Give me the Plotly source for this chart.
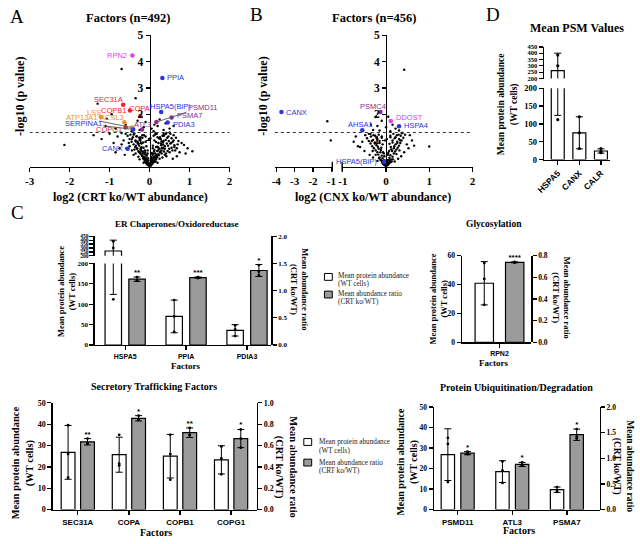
import math
import plotly.graph_objects as go

W, H = 640, 544


def X(px):
    return px / W


def Y(py):
    return 1 - py / H


SERIF = "Liberation Serif"
SANS = "Liberation Sans"
GRAY_FILL = "#9b9b9b"

# ------------------------------------------------------------------ data
P_CUTOFF = 0.05

# Panel A : CRT ko / WT volcano (unlabelled proteins)
a_log2fc = [
    0.00, -0.03, 0.03, -0.06, 0.06, -0.02, 0.02, -0.09, 0.09, -0.05,
    0.05, -0.12, 0.12, -0.08, 0.08, -0.15, 0.15, -0.10, 0.10, -0.18,
    0.18, -0.04, 0.04, -0.20, 0.22, -0.13, 0.14, -0.24, 0.26, -0.07,
    0.07, -0.28, 0.30, -0.17, 0.19, -0.32, 0.34, -0.11, 0.11, -0.22,
    0.25, -0.36, 0.38, -0.26, 0.29, -0.40, 0.43, -0.15, 0.16, -0.30,
    0.33, -0.45, 0.48, -0.20, 0.22, -0.35, 0.40, -0.50, 0.55, -0.25,
    0.28, -0.42, 0.47, -0.55, 0.60, -0.10, 0.12, -0.33, 0.36, -0.48,
    0.52, -0.60, 0.66, -0.18, 0.20, -0.38, 0.42, -0.52, 0.58, -0.65,
    0.72, -0.05, 0.30, -0.28, 0.45, -0.44, 0.62, -0.58, 0.80, 0.08,
    0.25, -0.15, 0.38, -0.35, 0.55, -0.50, 0.70, 0.15, 0.32, -0.25,
    0.50, -0.40, 0.64, 0.20, 0.42,
    -0.70, -0.75, -0.80, -0.90, -1.00, -1.20, -1.40, -0.85, -0.62, 0.75,
    0.86, 1.07, 0.90, 0.95, 0.68, 0.58, 0.50, 0.35, 0.15, -0.70,
    -0.70, -0.35, -1.30, -0.95, -1.10, -0.85, -0.60, -0.30, -0.15, -0.45,
    -0.25, 0.05, 0.20, 0.35, 0.10, 0.50, 0.25, 0.60, 0.40, -2.13,
    0.12, -0.10, -1.07,
    0.01, -0.01, 0.04, -0.04, 0.07, -0.07, 0.02, -0.02, 0.05, -0.05,
    0.10, -0.10, 0.13, -0.13, 0.03, -0.03, 0.08, -0.08, 0.16, -0.16,
    0.06, -0.06, 0.11, -0.11, 0.19, -0.19, 0.14, -0.14, 0.09, -0.09,
    0.23, -0.23, 0.17, -0.17, 0.27, -0.27, 0.21, -0.21, 0.31, -0.31,
    -0.05, 0.05, -0.12, 0.12, -0.20, 0.20, -0.28, 0.28, -0.35, 0.35,
    -0.08, 0.08, -0.16, 0.16, -0.24, 0.24, -0.32, 0.32, -0.40, 0.40,
    -0.02, 0.02, -0.10, 0.10, -0.18, 0.18, -0.26, 0.26, -0.34, 0.34,
    -0.44, 0.44, -0.14, 0.14, -0.22, 0.22, -0.30, 0.30, -0.38, 0.38,
    0.46, 0.52, 0.57, 0.62, 0.68, 0.36, 0.41, 0.49, 0.54, 0.60,
]
a_neglogp = [
    0.02, 0.05, 0.04, 0.08, 0.10, 0.12, 0.15, 0.14, 0.18, 0.20,
    0.22, 0.20, 0.25, 0.28, 0.30, 0.30, 0.33, 0.35, 0.38, 0.40,
    0.42, 0.32, 0.36, 0.45, 0.48, 0.48, 0.50, 0.52, 0.55, 0.42,
    0.45, 0.60, 0.62, 0.58, 0.60, 0.68, 0.70, 0.55, 0.58, 0.66,
    0.68, 0.75, 0.78, 0.80, 0.82, 0.85, 0.88, 0.72, 0.75, 0.90,
    0.92, 0.95, 0.98, 0.88, 0.90, 1.00, 1.02, 1.05, 1.08, 1.02,
    1.05, 1.12, 1.15, 1.18, 1.20, 0.95, 1.00, 1.15, 1.18, 1.22,
    1.25, 1.25, 1.10, 1.10, 1.12, 1.26, 1.28, 0.90, 0.95, 1.00,
    0.98, 0.62, 0.50, 0.38, 0.60, 0.62, 0.75, 0.70, 0.90, 0.70,
    0.30, 0.15, 0.45, 0.50, 0.72, 0.78, 0.85, 0.20, 0.35, 0.28,
    0.55, 0.45, 0.62, 0.15, 0.40,
    0.85, 0.70, 1.15, 0.90, 1.25, 1.05, 1.20, 0.55, 0.45, 0.55,
    0.83, 0.59, 0.50, 0.70, 0.40, 0.30, 1.30, 1.25, 1.28, 1.28,
    3.72, 2.61, 2.40, 2.00, 1.55, 1.45, 1.60, 1.75, 1.50, 1.35,
    1.40, 1.45, 1.55, 1.40, 1.35, 1.45, 1.80, 1.55, 1.65, 0.83,
    1.60, 1.70, 1.83,
    0.00, 0.03, 0.06, 0.07, 0.12, 0.11, 0.09, 0.10, 0.16, 0.14,
    0.17, 0.22, 0.20, 0.26, 0.25, 0.24, 0.24, 0.20, 0.28, 0.32,
    0.30, 0.27, 0.34, 0.30, 0.36, 0.42, 0.40, 0.38, 0.50, 0.46,
    0.44, 0.50, 0.46, 0.52, 0.58, 0.56, 0.62, 0.60, 0.72, 0.70,
    0.50, 0.52, 0.62, 0.64, 0.74, 0.76, 0.86, 0.88, 0.96, 0.98,
    0.78, 0.80, 0.92, 0.94, 1.05, 1.07, 1.16, 1.18, 1.22, 1.24,
    1.05, 1.08, 1.15, 1.18, 1.20, 1.25, 1.10, 1.12, 0.80, 0.84,
    1.05, 1.10, 1.20, 1.22, 0.70, 0.72, 0.95, 0.97, 0.65, 0.68,
    0.80, 0.88, 0.62, 0.82, 0.70, 0.58, 0.50, 0.68, 0.90, 1.00,
]
# Panel A labelled proteins
a_names = ["RPN2", "PPIA", "SEC31A", "COPA", "COPB1", "LSS", "ACSL3", "ATP13A1",
           "SERPINA1", "COPG1", "ATL3", "HSPA5(BiP)", "PSMD11", "PSMA7", "PDIA3", "CANX"]
a_lab_fc = [-0.43, 0.32, -0.66, -0.23, -0.49, -1.22, -0.63, -0.44,
            -0.41, -0.60, -0.19, 0.29, 0.17, 0.55, 0.45, -0.55]
a_lab_p = [4.23, 3.38, 2.36, 1.93, 2.14, 1.89, 1.69, 1.49,
           1.42, 1.49, 1.42, 2.08, 1.70, 1.87, 1.68, 0.68]

# Panel B : CNX ko / WT volcano (unlabelled proteins)
b_log2fc = [
    0.00, -0.03, 0.03, -0.06, 0.06, -0.02, 0.02, -0.09, 0.09, -0.05,
    0.05, -0.12, 0.12, -0.08, 0.08, -0.15, 0.15, -0.10, 0.10, -0.18,
    0.18, -0.04, 0.04, -0.20, 0.21, -0.13, 0.14, -0.24, 0.24, -0.07,
    0.07, -0.28, 0.27, -0.17, 0.18, -0.32, 0.30, -0.11, 0.11, -0.22,
    0.22, -0.36, 0.33, -0.26, 0.26, -0.40, 0.36, -0.15, 0.15, -0.30,
    0.30, -0.44, 0.40, -0.20, 0.20, -0.35, 0.34, -0.48, 0.44, -0.25,
    0.25, -0.40, 0.38, -0.10, 0.10, -0.55, 0.48, -0.60, 0.52, -0.50,
    0.42, -0.38, 0.35, -0.30, 0.28, -0.20, 0.20,
    -0.70, -0.65, -0.75, 0.60, 0.55, 0.65, 1.00, -1.22, -1.03,
    -0.24, -0.20, -0.10, 0.05, 0.15, 0.22, -0.30, 0.42, -0.35, 0.00,
    0.10, -0.15, 0.30,
    0.01, -0.01, 0.04, -0.04, 0.07, -0.07, 0.02, -0.02, 0.05, -0.05,
    0.10, -0.10, 0.13, -0.13, 0.03, -0.03, 0.08, -0.08, 0.16, -0.16,
    -0.05, 0.05, -0.12, 0.12, -0.19, 0.19, -0.26, 0.26, -0.33, 0.33,
    -0.08, 0.08, -0.15, 0.15, -0.22, 0.22, -0.29, 0.29, -0.36, 0.36,
    -0.02, 0.02, -0.10, 0.10, -0.17, 0.17, -0.24, 0.24, -0.31, 0.31,
]
b_neglogp = [
    0.02, 0.05, 0.06, 0.10, 0.12, 0.15, 0.18, 0.16, 0.20, 0.24,
    0.26, 0.25, 0.28, 0.32, 0.34, 0.35, 0.38, 0.42, 0.44, 0.46,
    0.50, 0.40, 0.45, 0.55, 0.58, 0.55, 0.60, 0.62, 0.65, 0.55,
    0.60, 0.70, 0.72, 0.68, 0.70, 0.78, 0.80, 0.72, 0.75, 0.82,
    0.85, 0.88, 0.90, 0.92, 0.95, 0.98, 1.00, 0.90, 0.92, 1.02,
    1.05, 1.08, 1.10, 1.05, 1.08, 1.15, 1.18, 1.20, 1.22, 1.18,
    1.20, 1.25, 1.28, 1.10, 1.12, 0.95, 0.85, 0.75, 0.70, 0.60,
    0.55, 0.45, 0.40, 0.35, 0.30, 0.22, 0.20,
    1.15, 0.78, 0.95, 1.00, 1.20, 0.80, 0.77, 1.73, 1.00,
    1.89, 1.55, 1.75, 1.90, 1.60, 1.45, 1.40, 3.69, 1.60, 1.50,
    1.35, 1.38, 1.38,
    0.00, 0.03, 0.06, 0.07, 0.12, 0.11, 0.09, 0.10, 0.16, 0.14,
    0.17, 0.22, 0.20, 0.26, 0.25, 0.24, 0.24, 0.20, 0.28, 0.32,
    0.50, 0.52, 0.64, 0.66, 0.76, 0.78, 0.88, 0.90, 0.98, 1.00,
    0.85, 0.87, 0.98, 1.00, 1.10, 1.12, 1.20, 1.22, 1.25, 1.28,
    1.00, 1.05, 1.15, 1.18, 1.22, 1.25, 0.45, 0.48, 0.60, 0.62,
]
b_names = ["CANX", "PSMC4", "DDOST", "HSPA4", "AHSA1", "HSPA5(BiP)"]
b_lab_fc = [-3.72, -0.13, 0.11, 0.30, -0.55, -0.04]
b_lab_p = [2.08, 2.08, 1.74, 1.54, 1.39, 0.18]

volcano_a_xticks = [-3, -2, -1, 0, 1, 2]
volcano_b_left_xticks = [-4, -3, -2, -1]
volcano_b_right_xticks = [-1, 0, 1, 2]
volcano_yticks = [1, 2, 3, 4, 5]

# Panel D : mean PSM values
d_cats = ["HSPA5", "CANX", "CALR"]
d_mean = [262, 75, 24]
d_sd = [138, 45, 6]
d_pts = [[385, 300, 112], [120, 75, 31], [31, 22, 19]]

# Panel C : ER chaperones / oxidoreductase
er_cats = ["HSPA5", "PPIA", "PDIA3"]
er_wt_mean = [262, 70, 36]
er_wt_sd = [138, 40, 14]
er_wt_pts = [[385, 300, 112], [110, 70, 32], [48, 38, 22]]
er_ratio_mean = [1.21, 1.24, 1.37]
er_ratio_sd = [0.04, 0.01, 0.11]
er_ratio_pts = [[1.25, 1.19, 1.18], [1.25, 1.24, 1.23], [1.47, 1.35, 1.28]]
er_stars = ["**", "***", "*"]

# Panel C : glycosylation
gly_cats = ["RPN2"]
gly_wt_mean = [41]
gly_wt_sd = [15]
gly_wt_pts = [[55, 44, 26]]
gly_ratio_mean = [0.74]
gly_ratio_sd = [0.004]
gly_ratio_pts = [[0.744, 0.740, 0.737]]
gly_stars = ["****"]

# Panel C : secretory trafficking factors
sec_cats = ["SEC31A", "COPA", "COPB1", "COPG1"]
sec_wt_mean = [26.8, 25.7, 25.0, 23.3]
sec_wt_sd = [12.6, 8.2, 10.2, 6.6]
sec_wt_pts = [[39.5, 26, 15], [35, 21.5, 20.6], [35, 26, 14], [29.5, 24, 16.5]]
sec_ratio_mean = [0.635, 0.855, 0.72, 0.665]
sec_ratio_sd = [0.03, 0.025, 0.045, 0.085]
sec_ratio_pts = [[0.665, 0.62, 0.62], [0.88, 0.84, 0.845], [0.765, 0.70, 0.695], [0.75, 0.665, 0.58]]
sec_stars = ["**", "*", "**", "*"]

# Panel C : protein ubiquitination / degradation
ubi_cats = ["PSMD11", "ATL3", "PSMA7"]
ubi_wt_mean = [26.8, 18.5, 9.7]
ubi_wt_sd = [12.6, 5.3, 1.3]
ubi_wt_pts = [[35, 32, 13.4], [23.5, 19, 13], [11, 9.5, 8.6]]
ubi_ratio_mean = [1.10, 0.88, 1.46]
ubi_ratio_sd = [0.03, 0.04, 0.11]
ubi_ratio_pts = [[1.13, 1.09, 1.08], [0.92, 0.86, 0.86], [1.57, 1.42, 1.39]]
ubi_stars = ["*", "*", "*"]

# ------------------------------------------------------------------ styles
BLUE = "#2b35e0"
RED = "#e4252b"
ORANGE = "#f2912a"
PURPLE = "#8e2b8e"
MAGENTA = "#e640e6"
GENE_COLOR = {
    "RPN2": MAGENTA, "PPIA": BLUE, "SEC31A": RED, "COPA": RED, "COPB1": RED,
    "LSS": ORANGE, "ACSL3": ORANGE, "ATP13A1": ORANGE, "SERPINA1": BLUE,
    "COPG1": RED, "ATL3": PURPLE, "HSPA5(BiP)": BLUE, "PSMD11": PURPLE,
    "PSMA7": PURPLE, "PDIA3": BLUE, "CANX": BLUE, "PSMC4": PURPLE,
    "DDOST": MAGENTA, "HSPA4": BLUE, "AHSA1": BLUE,
}
# label placement: ("side", xanchor, xshift, yshift) or ("arrow", ax, ay)
A_LABEL_STYLE = {
    "RPN2": ("side", "right", -3, 0), "PPIA": ("side", "left", 3, 0),
    "SEC31A": ("side", "right", 2, 5), "COPA": ("side", "center", -1, 8),
    "COPB1": ("side", "right", -2, 0), "LSS": ("side", "right", 2, 5),
    "ACSL3": ("side", "right", 2, 5), "ATP13A1": ("arrow", -50, -10),
    "SERPINA1": ("arrow", -50, -6), "COPG1": ("side", "right", -2, -2),
    "ATL3": ("side", "center", 0, 5), "HSPA5(BiP)": ("side", "center", 9, 6),
    "PSMD11": ("arrow", 46, -15), "PSMA7": ("side", "left", 3, 2),
    "PDIA3": ("side", "left", 3, -2), "CANX": ("side", "right", -3, 0),
}
B_LABEL_STYLE = {
    "CANX": ("side", "left", 3, 0), "PSMC4": ("side", "center", -7, 6),
    "DDOST": ("side", "left", 3, 3), "HSPA4": ("side", "left", 3, 1),
    "AHSA1": ("side", "center", -2, 6), "HSPA5(BiP)": ("side", "right", -5, 0),
}

fig = go.Figure()
ann = []
shapes = []


def axis_common(fontsize, family=SERIF):
    return dict(showline=True, linecolor="black", linewidth=1.4, ticks="outside",
                ticklen=4, tickwidth=1.3, tickcolor="black", showgrid=False,
                zeroline=False, fixedrange=True,
                tickfont=dict(family=family, size=fontsize, color="black", weight="bold"))


def yax(bottom_py, top_py, rng, tickvals, pos_px, fontsize, side="left", fmt=None, visible=True):
    d = axis_common(fontsize)
    d.update(domain=[Y(bottom_py), Y(top_py)], range=rng, tickvals=tickvals,
             anchor="free", position=X(pos_px), side=side, visible=visible)
    if fmt:
        d["tickformat"] = fmt
    return d


def xax(left_px, right_px, rng, tickvals, ticktext, anchor, fontsize, family=SERIF, angle=None):
    d = axis_common(fontsize, family)
    d.update(domain=[X(left_px), X(right_px)], range=rng, tickvals=tickvals,
             ticktext=ticktext, anchor=anchor)
    if angle is not None:
        d["tickangle"] = angle
    return d


def text_ann(s, xpx, ypx, size, bold=True, family=SERIF, angle=0, xanchor="center", color="black"):
    ann.append(dict(text=s, x=X(xpx), y=Y(ypx), xref="paper", yref="paper", showarrow=False,
                    xanchor=xanchor, yanchor="middle", textangle=angle,
                    font=dict(family=family, size=size, color=color,
                              weight="bold" if bold else "normal")))


def gene_label(name, x, y, xref, yref, style):
    font = dict(family=SANS, size=7.5, color=GENE_COLOR[name])
    if style[0] == "arrow":
        ann.append(dict(text=name, x=x, y=y, xref=xref, yref=yref, showarrow=True,
                        arrowhead=0, arrowwidth=0.9, arrowcolor="#555555", ax=style[1],
                        ay=style[2], standoff=1, font=font))
    else:
        ann.append(dict(text=name, x=x, y=y, xref=xref, yref=yref, showarrow=False,
                        xanchor=style[1], yanchor="middle", xshift=style[2], yshift=style[3],
                        font=font))


def dots(xs, groups, xa, ya, size=2.8):
    fig.add_trace(go.Scatter(
        x=[xs[i] for i, g in enumerate(groups) for _ in g],
        y=[v for g in groups for v in g], mode="markers",
        marker=dict(color="black", size=size), xaxis=xa, yaxis=ya, hoverinfo="skip"))


def bar_trace(xs, means, sds, width, color, xa, ya):
    fig.add_trace(go.Bar(
        x=xs, y=means, width=width,
        marker=dict(color=color, line=dict(color="black", width=1.2)),
        error_y=dict(type="data", array=sds, color="black", thickness=1, width=3.5),
        xaxis=xa, yaxis=ya, hoverinfo="skip"))


def bar_panel(xa, left_axes, right_axis, cats, wt_mean, wt_sd, wt_pts,
              r_mean, r_sd, r_pts, stars, off, width, star_size):
    idx = list(range(len(cats)))
    xw = [i - off for i in idx]
    xg = [i + off for i in idx]
    for ya in left_axes:
        bar_trace(xw, wt_mean, wt_sd, width, "white", xa, ya)
        dots(xw, wt_pts, xa, ya)
    bar_trace(xg, r_mean, r_sd, width, GRAY_FILL, xa, right_axis)
    dots(xg, r_pts, xa, right_axis)
    fig.add_trace(go.Scatter(
        x=xg, y=[m + s for m, s in zip(r_mean, r_sd)], mode="text", text=stars,
        textposition="top center", cliponaxis=False,
        textfont=dict(family=SANS, size=star_size, color="black", weight="bold"),
        xaxis=xa, yaxis=right_axis, hoverinfo="skip"))


thr = -math.log10(P_CUTOFF)

# ------------------------------------------------------------------ panel A
fig.add_trace(go.Scatter(x=a_log2fc, y=a_neglogp, mode="markers",
                         marker=dict(color="black", size=2.4), xaxis="x", yaxis="y",
                         hoverinfo="skip"))
fig.add_trace(go.Scatter(x=a_lab_fc, y=a_lab_p, mode="markers",
                         marker=dict(color=[GENE_COLOR[n] for n in a_names], size=4.5),
                         xaxis="x", yaxis="y", hoverinfo="skip"))
for n, x, y in zip(a_names, a_lab_fc, a_lab_p):
    gene_label(n, x, y, "x", "y", A_LABEL_STYLE[n])
shapes.append(dict(type="line", xref="x", yref="y", x0=volcano_a_xticks[0], x1=volcano_a_xticks[-1],
                   y0=thr, y1=thr, line=dict(color="#333333", width=1.2, dash="dot")))

# ------------------------------------------------------------------ panel B
b_left = [(x, y) for x, y in zip(b_log2fc, b_neglogp) if x < -1]
b_right = [(x, y) for x, y in zip(b_log2fc, b_neglogp) if x >= -1]
fig.add_trace(go.Scatter(x=[p[0] for p in b_right], y=[p[1] for p in b_right], mode="markers",
                         marker=dict(color="black", size=2.4), xaxis="x2", yaxis="y2",
                         hoverinfo="skip"))
fig.add_trace(go.Scatter(x=[p[0] for p in b_left], y=[p[1] for p in b_left], mode="markers",
                         marker=dict(color="black", size=2.4), xaxis="x3", yaxis="y3",
                         hoverinfo="skip"))
for n, x, y in zip(b_names, b_lab_fc, b_lab_p):
    xr, yr = ("x3", "y3") if x < -1 else ("x2", "y2")
    fig.add_trace(go.Scatter(x=[x], y=[y], mode="markers",
                             marker=dict(color=GENE_COLOR[n], size=4.5),
                             xaxis=xr, yaxis=yr, hoverinfo="skip"))
    gene_label(n, x, y, xr, yr, B_LABEL_STYLE[n])
shapes.append(dict(type="line", xref="paper", yref="y2", x0=X(272.5), x1=X(474),
                   y0=thr, y1=thr, line=dict(color="#333333", width=1.2, dash="dot")))
for bx in (331, 341):
    shapes.append(dict(type="line", xref="paper", yref="paper", x0=X(bx), x1=X(bx),
                       y0=Y(169), y1=Y(159), line=dict(color="black", width=1.4)))

# ------------------------------------------------------------------ panel D
d_idx = list(range(len(d_cats)))
for ya in ("y4", "y5"):
    bar_trace(d_idx, d_mean, d_sd, 0.6, "white", "x4", ya)
    dots(d_idx, d_pts, "x4", ya, size=3.2)

# ------------------------------------------------------------------ panel C
bar_panel("x5", ["y6", "y7"], "y8", er_cats, er_wt_mean, er_wt_sd, er_wt_pts,
          er_ratio_mean, er_ratio_sd, er_ratio_pts, er_stars, 0.195, 0.27, 8)
bar_panel("x6", ["y9"], "y10", gly_cats, gly_wt_mean, gly_wt_sd, gly_wt_pts,
          gly_ratio_mean, gly_ratio_sd, gly_ratio_pts, gly_stars, 0.215, 0.26, 8)
bar_panel("x7", ["y11"], "y12", sec_cats, sec_wt_mean, sec_wt_sd, sec_wt_pts,
          sec_ratio_mean, sec_ratio_sd, sec_ratio_pts, sec_stars, 0.19, 0.27, 8)
bar_panel("x8", ["y13"], "y14", ubi_cats, ubi_wt_mean, ubi_wt_sd, ubi_wt_pts,
          ubi_ratio_mean, ubi_ratio_sd, ubi_ratio_pts, ubi_stars, 0.18, 0.245, 8)

# ------------------------------------------------------------------ axes
layout_axes = dict(
    # A
    xaxis=xax(23, 226.5, [-3, 2], volcano_a_xticks, [str(v) for v in volcano_a_xticks], "y", 11),
    yaxis=yax(164, 30, [0, 5], volcano_yticks, 145.1, 11.5),
    # B
    xaxis2=xax(341, 474.5, [-1.016, 2.02], volcano_b_right_xticks,
               [str(v) for v in volcano_b_right_xticks], "y2", 11),
    yaxis2=yax(164, 30, [0, 5], volcano_yticks, 385.7, 11.5),
    xaxis3=xax(272.5, 331, [-4.08, -0.947], volcano_b_left_xticks,
               [str(v) for v in volcano_b_left_xticks], "y3", 11),
    yaxis3=yax(164, 30, [0, 5], volcano_yticks, 272.5, 11, visible=False),
    # D
    xaxis4=xax(545, 614, [-0.7, 2.44], d_idx, d_cats, "y4", 8.5, family=SANS, angle=-45),
    yaxis4=yax(156.7, 84, [0, 200], [0, 50, 100, 150, 200], 545, 8.5),
    yaxis5=yax(74, 41.7, [200, 450], [200, 250, 300, 350, 400, 450], 545, 6.5),
    # C: ER
    xaxis5=xax(88, 269, [-0.52, 2.4], list(range(len(er_cats))), er_cats, "y6", 7, family=SANS),
    yaxis6=yax(346, 262.7, [0, 200], [0, 50, 100, 150, 200], 88, 7),
    yaxis7=yax(255, 235, [200, 450], [200, 250, 300, 350, 400, 450], 88, 5.5),
    yaxis8=yax(346, 235, [0, 2], [0, 0.5, 1, 1.5, 2], 269, 7, side="right", fmt=".1f"),
    # C: glycosylation
    xaxis6=xax(461.5, 533.5, [-0.55, 0.45], [0], gly_cats, "y9", 7, family=SANS),
    yaxis9=yax(343.3, 255, [0, 60], [0, 20, 40, 60], 461.5, 7.5),
    yaxis10=yax(343.3, 255, [0, 0.8], [0, 0.2, 0.4, 0.6, 0.8], 533.5, 7.5, side="right", fmt=".1f"),
    # C: secretory
    xaxis7=xax(45, 254, [-0.52, 3.5], list(range(len(sec_cats))), sec_cats, "y11", 8, family=SANS),
    yaxis11=yax(514, 405, [0, 50], [0, 10, 20, 30, 40, 50], 45, 8),
    yaxis12=yax(514, 405, [0, 1], [0, 0.2, 0.4, 0.6, 0.8, 1.0], 254, 8, side="right", fmt=".1f"),
    # C: ubiquitination
    xaxis8=xax(433, 603, [-0.46, 2.6], list(range(len(ubi_cats))), ubi_cats, "y13", 8, family=SANS),
    yaxis13=yax(514, 409.3, [0, 50], [0, 10, 20, 30, 40, 50], 433, 7.5),
    yaxis14=yax(514, 409.3, [0, 2], [0, 0.5, 1, 1.5, 2], 603, 7.5, side="right", fmt=".1f"),
)

# ------------------------------------------------------------------ text
text_ann("A", 10, 11, 19, bold=False)
text_ann("B", 254, 9, 19, bold=False)
text_ann("C", 11, 211, 19, bold=False)
text_ann("D", 495, 9, 19, bold=False)

text_ann("Factors (n=492)", 124, 12, 12.5)
text_ann("Factors (n=456)", 374, 12, 12.5)
text_ann("Mean PSM Values", 580, 22, 12)
text_ann("-log10 (p value)", 13, 92, 12, angle=-90)
text_ann("-log10 (p value)", 261, 92, 12, angle=-90)
text_ann("log2 (CRT ko/WT abundance)", 126, 195, 12)
text_ann("log2 (CNX ko/WT abundance)", 372.5, 195, 12)
text_ann("Mean protein abundance<br>(WT cells)", 510, 100, 9.5, angle=-90)

text_ann("ER Chaperones/Oxidoreductase", 172, 222, 9)
text_ann("Glycosylation", 496, 223, 9.5)
text_ann("Secretory Trafficking Factors", 150, 388, 10)
text_ann("Protein Ubiquitination/Degradation", 518, 389, 10)
text_ann("Factors", 182, 367, 9)
text_ann("Factors", 495, 364, 9)
text_ann("Factors", 152, 537, 10)
text_ann("Factors", 521, 535, 10)

text_ann("Mean protein abundance<br>(WT cells)", 60, 291, 8.5, angle=-90)
text_ann("Mean abundance ratio<br>(CRT ko/WT)", 298, 289, 8.5, angle=90)
text_ann("Mean protein abundance<br>(WT cells)", 439, 299, 8.5, angle=-90)
text_ann("Mean abundance ratio<br>(CRT ko/WT)", 564, 298, 8.5, angle=90)
text_ann("Mean protein abundance<br>(WT cells)", 16, 466, 10.5, angle=-90)
text_ann("Mean abundance ratio<br>(CRT ko/WT)", 283, 471, 10.5, angle=90)
text_ann("Mean protein abundance<br>(WT cells)", 408, 465, 10, angle=-90)
text_ann("Mean abundance ratio<br>(CRT ko/WT)", 627, 470, 9.5, angle=90)

# legends (two copies, as in the figure)
legend_lines = ["Mean protein abundance", "(WT cells)", "Mean abundance ratio", "(CRT ko/WT)"]
for (bx0, bx1, tx, box_ys, line_ys) in (
        (323, 331, 335, (273, 291), (275.5, 283.5, 294.3, 302.5)),
        (302, 310, 315, (441.5, 462.5), (445.5, 454.5, 466, 475))):
    for by, fill in zip(box_ys, ("white", GRAY_FILL)):
        shapes.append(dict(type="rect", xref="paper", yref="paper", x0=X(bx0), x1=X(bx1),
                           y0=Y(by + 7), y1=Y(by), fillcolor=fill,
                           line=dict(color="black", width=1)))
    for s, ly in zip(legend_lines, line_ys):
        text_ann(s, tx, ly, 7.2, bold=False, xanchor="left", color="#222222")

fig.update_layout(
    width=W, height=H, margin=dict(l=0, r=0, t=0, b=0),
    paper_bgcolor="white", plot_bgcolor="rgba(0,0,0,0)",
    showlegend=False, barmode="overlay",
    annotations=ann, shapes=shapes, **layout_axes,
)

fig.write_html(
    "out.html",
    config={"displayModeBar": False, "staticPlot": True},
    post_script="document.body.style.margin='0';document.body.style.overflow='hidden';",
)
